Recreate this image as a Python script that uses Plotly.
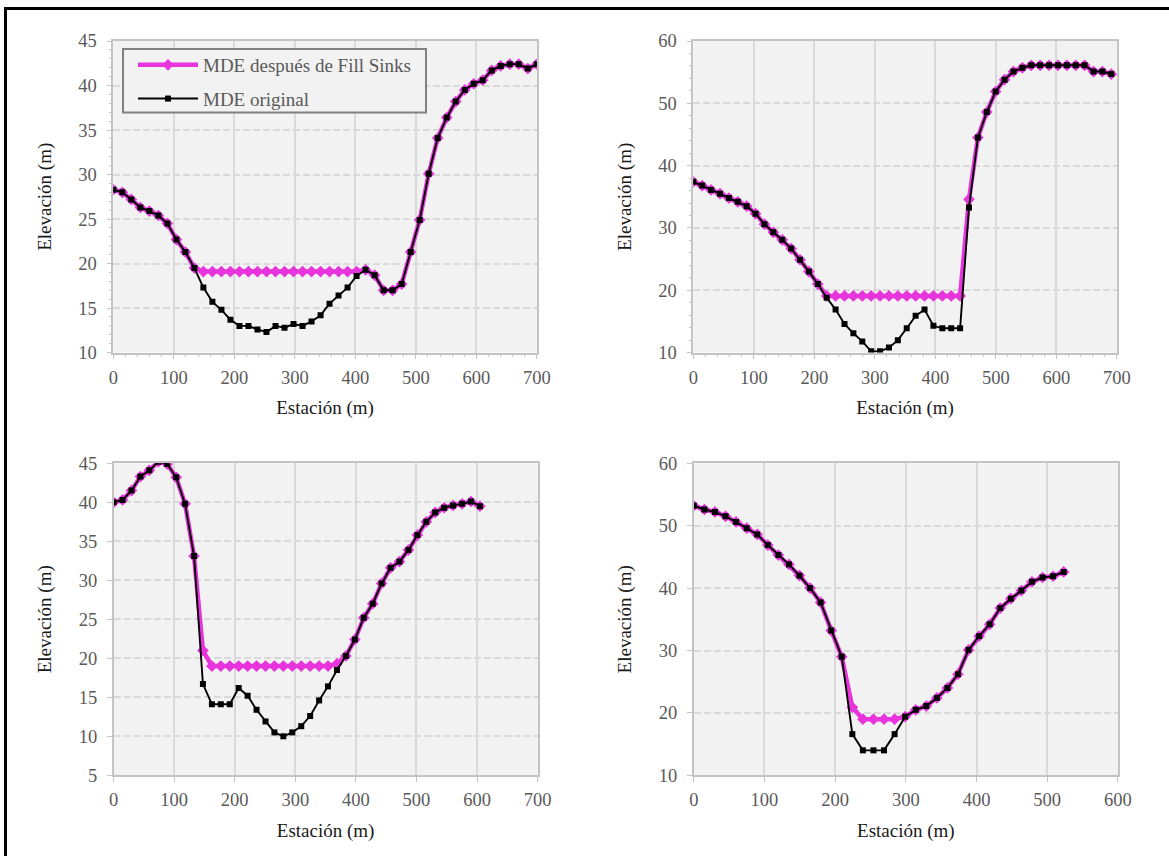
import plotly.graph_objects as go
from plotly.subplots import make_subplots

# ---- Perfil 1 ----
est_1 = [0, 14.9, 29.8, 44.7, 59.6, 74.5, 89.4, 104.3, 119.1, 134.0, 148.9, 163.8,
         178.7, 193.6, 208.5, 223.4, 238.3, 253.2, 268.1, 283.0, 297.9, 312.8, 327.7,
         342.6, 357.4, 372.3, 387.2, 402.1, 417.0, 431.9, 446.8, 461.7, 476.6, 491.5,
         506.4, 521.3, 536.2, 551.1, 566.0, 580.9, 595.7, 610.6, 625.5, 640.4, 655.3,
         670.2, 685.1, 700.0]
orig_1 = [28.3, 28.0, 27.2, 26.3, 25.9, 25.4, 24.5, 22.7, 21.3, 19.5,
          17.3, 15.7, 14.8, 13.7, 13.0, 13.0, 12.6, 12.3, 13.0, 12.8,
          13.2, 13.0, 13.5, 14.2, 15.5, 16.4, 17.3, 18.6, 19.3, 18.7,
          17.0, 17.0, 17.7, 21.3, 24.9, 30.1, 34.1, 36.4, 38.2, 39.5,
          40.2, 40.6, 41.7, 42.2, 42.4, 42.4, 41.9, 42.4]
fill_1 = [28.3, 28.0, 27.2, 26.3, 25.9, 25.4, 24.5, 22.7, 21.3, 19.5,
          19.1, 19.1, 19.1, 19.1, 19.1, 19.1, 19.1, 19.1, 19.1, 19.1,
          19.1, 19.1, 19.1, 19.1, 19.1, 19.1, 19.1, 19.1, 19.3, 18.7,
          17.0, 17.0, 17.7, 21.3, 24.9, 30.1, 34.1, 36.4, 38.2, 39.5,
          40.2, 40.6, 41.7, 42.2, 42.4, 42.4, 41.9, 42.4]

# ---- Perfil 2 ----
est_2 = [0, 14.7, 29.4, 44.1, 58.8, 73.5, 88.2, 102.9, 117.6, 132.3, 147.0, 161.7,
         176.4, 191.1, 205.8, 220.5, 235.2, 249.9, 264.6, 279.3, 294.0, 308.7, 323.4,
         338.1, 352.8, 367.5, 382.2, 396.9, 411.6, 426.3, 441.0, 455.7, 470.4, 485.1,
         499.8, 514.5, 529.2, 543.9, 558.6, 573.3, 588.0, 602.7, 617.4, 632.1, 646.8,
         661.5, 676.2, 690.9]
orig_2 = [37.4, 36.8, 36.1, 35.5, 34.8, 34.2, 33.5, 32.3, 30.6, 29.3,
          28.1, 26.7, 24.9, 23.0, 21.0, 18.8, 16.9, 14.6, 13.1, 11.8,
          10.2, 10.2, 10.8, 12.0, 13.9, 15.9, 16.9, 14.3, 13.9, 13.9,
          13.9, 33.3, 44.5, 48.6, 51.9, 53.8, 55.1, 55.7, 56.1, 56.1,
          56.1, 56.1, 56.1, 56.1, 56.1, 55.1, 55.1, 54.7]
fill_2 = [37.4, 36.8, 36.1, 35.5, 34.8, 34.2, 33.5, 32.3, 30.6, 29.3,
          28.1, 26.7, 24.9, 23.0, 21.0, 19.1, 19.1, 19.1, 19.1, 19.1,
          19.1, 19.1, 19.1, 19.1, 19.1, 19.1, 19.1, 19.1, 19.1, 19.1,
          19.1, 34.6, 44.5, 48.6, 51.9, 53.8, 55.1, 55.7, 56.1, 56.1,
          56.1, 56.1, 56.1, 56.1, 56.1, 55.1, 55.1, 54.7]

# ---- Perfil 3 ----
est_3 = [0, 14.8, 29.5, 44.3, 59.0, 73.8, 88.5, 103.3, 118.0, 132.8, 147.5, 162.3,
         177.0, 191.8, 206.5, 221.3, 236.0, 250.8, 265.5, 280.3, 295.0, 309.8, 324.5,
         339.3, 354.0, 368.8, 383.5, 398.3, 413.0, 427.8, 442.5, 457.3, 472.0, 486.8,
         501.5, 516.3, 531.0, 545.8, 560.5, 575.3, 590.0, 604.8]
orig_3 = [40.0, 40.3, 41.5, 43.3, 44.1, 45.2, 44.9, 43.2, 39.8, 33.1,
          16.7, 14.1, 14.1, 14.1, 16.2, 15.2, 13.4, 11.9, 10.5, 10.0,
          10.5, 11.3, 12.6, 14.6, 16.4, 18.5, 20.3, 22.4, 25.2, 27.0,
          29.6, 31.6, 32.4, 33.9, 35.8, 37.5, 38.7, 39.3, 39.6, 39.8,
          40.1, 39.5]
fill_3 = [40.0, 40.3, 41.5, 43.3, 44.1, 45.2, 44.9, 43.2, 39.8, 33.1,
          21.0, 19.0, 19.0, 19.0, 19.0, 19.0, 19.0, 19.0, 19.0, 19.0,
          19.0, 19.0, 19.0, 19.0, 19.0, 19.3, 20.3, 22.4, 25.2, 27.0,
          29.6, 31.6, 32.4, 33.9, 35.8, 37.5, 38.7, 39.3, 39.6, 39.8,
          40.1, 39.5]

# ---- Perfil 4 ----
est_4 = [0, 15.0, 29.9, 44.9, 59.8, 74.8, 89.7, 104.7, 119.6, 134.6, 149.5, 164.5,
         179.4, 194.4, 209.3, 224.3, 239.2, 254.2, 269.1, 284.1, 299.0, 314.0, 328.9,
         343.9, 358.8, 373.8, 388.7, 403.7, 418.6, 433.6, 448.5, 463.5, 478.4, 493.4,
         508.3, 523.3]
orig_4 = [53.2, 52.6, 52.2, 51.5, 50.6, 49.6, 48.6, 46.9, 45.3, 43.8,
          42.0, 40.0, 37.7, 33.2, 29.0, 16.6, 14.0, 14.0, 14.0, 16.6,
          19.4, 20.5, 21.1, 22.4, 24.0, 26.2, 30.1, 32.3, 34.2, 36.8,
          38.3, 39.6, 41.0, 41.7, 41.9, 42.6]
fill_4 = [53.2, 52.6, 52.2, 51.5, 50.6, 49.6, 48.6, 46.9, 45.3, 43.8,
          42.0, 40.0, 37.7, 33.2, 29.0, 20.9, 19.0, 19.0, 19.0, 19.0,
          19.4, 20.5, 21.1, 22.4, 24.0, 26.2, 30.1, 32.3, 34.2, 36.8,
          38.3, 39.6, 41.0, 41.7, 41.9, 42.6]

name_fill = "MDE después de Fill Sinks"
name_orig = "MDE original"

perfiles = [
    (est_1, fill_1, orig_1, [0, 700], [10, 45], 5, True),
    (est_2, fill_2, orig_2, [0, 700], [10, 60], 10, True),
    (est_3, fill_3, orig_3, [0, 700], [5, 45], 5, False),
    (est_4, fill_4, orig_4, [0, 600], [10, 60], 10, False),
]
cells = [(1, 1), (1, 2), (2, 1), (2, 2)]

W, H = 1169, 856
# plot areas in pixels: (left, right, top, bottom)
areas = [(113.3, 536.8, 41, 352.6), (693.3, 1116.8, 41, 352.6),
         (113.6, 537.6, 463.3, 775.3), (693.8, 1117.9, 463.3, 775.3)]

MAG = "#E834DC"
GRID = "#d9d9d9"
AXL = "#c4c4c4"
TICKC = "#595959"
SERIF = "Liberation Serif"

fig = make_subplots(rows=2, cols=2)

for k, (est, fill, orig, xr, yr, ydt, minor_ticks) in enumerate(perfiles):
    r, c = cells[k]
    fig.add_trace(go.Scatter(
        x=est, y=fill, mode="lines+markers", name=name_fill,
        line=dict(color=MAG, width=4.5),
        marker=dict(symbol="diamond", size=9, color=MAG),
        legendgroup="fill", showlegend=(k == 0)), row=r, col=c)
    fig.add_trace(go.Scatter(
        x=est, y=orig, mode="lines+markers", name=name_orig,
        line=dict(color="black", width=1.9),
        marker=dict(symbol="square", size=6, color="black"),
        legendgroup="orig", showlegend=(k == 0)), row=r, col=c)

    l, rr, t, b = areas[k]
    xdom = [l / W, rr / W]
    ydom = [1 - b / H, 1 - t / H]
    xa = dict(domain=xdom, range=xr, dtick=100, tick0=0, showgrid=True, gridcolor=GRID, gridwidth=1.5,
              showline=True, linecolor=AXL, linewidth=1.5, mirror=True, zeroline=False,
              ticks="outside", ticklen=5, tickcolor=AXL, automargin=False, ticklabelstandoff=2,
              tickfont=dict(family=SERIF, size=18.5, color=TICKC),
              title=dict(text="Estación (m)", font=dict(family=SERIF, size=19, color="#1a1a1a"), standoff=14))
    ya = dict(domain=ydom, range=yr, dtick=ydt, tick0=0, showgrid=True, gridcolor=GRID, gridwidth=1.5,
              griddash="7px,3px",
              showline=True, linecolor=AXL, linewidth=1.5, mirror=True, zeroline=False,
              ticks="outside", ticklen=5, tickcolor=AXL, automargin=False, ticklabelstandoff=6,
              tickfont=dict(family=SERIF, size=18.5, color=TICKC),
              title=dict(text="Elevación (m)", font=dict(family=SERIF, size=19, color="#1a1a1a"), standoff=22))
    if minor_ticks:
        xa["minor"] = dict(dtick=20, ticklen=3, tickcolor=AXL, ticks="outside", showgrid=False)
        ya["minor"] = dict(dtick=1 if ydt == 5 else 2, ticklen=3, tickcolor=AXL,
                           ticks="outside", showgrid=False)
    sx = "" if k == 0 else str(k + 1)
    fig.layout["xaxis" + sx].update(xa)
    fig.layout["yaxis" + sx].update(ya)

# legend frame in pixel space (left, right, top, bottom)
LG = (123, 426, 49, 112.5)

fig.update_layout(
    width=W, height=H,
    margin=dict(l=0, r=0, t=0, b=0),
    paper_bgcolor="white",
    plot_bgcolor="#f2f2f2",
    showlegend=True,
    legend=dict(x=133 / W, y=1 - 46 / H, xanchor="left", yanchor="top",
                bgcolor="rgba(0,0,0,0)", borderwidth=0,
                font=dict(family=SERIF, size=19, color=TICKC),
                tracegroupgap=6, itemwidth=60),
    shapes=[
        dict(type="rect", xref="paper", yref="paper",
             x0=LG[0] / W, x1=LG[1] / W, y0=1 - LG[3] / H, y1=1 - LG[2] / H,
             fillcolor="#f2f2f2", line=dict(color="#808080", width=2), layer="above"),
        dict(type="line", xref="paper", yref="paper", x0=5 / W, x1=1, y0=1 - 8.5 / H, y1=1 - 8.5 / H,
             line=dict(color="black", width=3)),
        dict(type="line", xref="paper", yref="paper", x0=5.5 / W, x1=5.5 / W, y0=0, y1=1 - 7 / H,
             line=dict(color="black", width=3)),
    ],
)

fig.write_html("out.html")
